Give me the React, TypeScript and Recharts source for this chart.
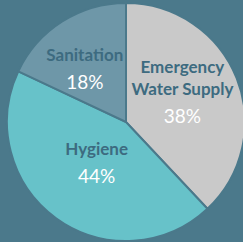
import { PieChart, Pie, Cell } from "recharts"

const categories = ["Emergency Water Supply", "Hygiene", "Sanitation"]
const shares = [38, 44, 18]

const BG = "#4b798b"
const sliceColors = ["#c9c9c9", "#67c2c9", "#6e97a8"]
// label placement tweaks per slice (radius factor, angle nudge in degrees)
const labelRadius = [0.54, 0.42, 0.57]
const labelAngleShift = [7, 0, 5]

const data = categories.map((name, i) => ({ name, value: shares[i] }))

const RADIAN = Math.PI / 180

function wrap(text: string, max: number) {
  const lines: string[] = []
  let cur = ""
  for (const w of text.split(" ")) {
    if (cur && (cur + " " + w).length > max) {
      lines.push(cur)
      cur = w
    } else {
      cur = cur ? cur + " " + w : w
    }
  }
  if (cur) lines.push(cur)
  return lines
}

function renderLabel(props: any) {
  const { cx, cy, midAngle, outerRadius, index, name, value } = props
  const r = outerRadius * labelRadius[index]
  const a = (midAngle + labelAngleShift[index]) * RADIAN
  const x = cx + r * Math.cos(-a)
  const y = cy + r * Math.sin(-a)
  const lines = wrap(name, 12)
  const span = (lines.length - 1) * 22 + 27
  const top = y - span / 2
  return (
    <g>
      {lines.map((l, i) => (
        <text
          key={i}
          x={x}
          y={top + i * 22}
          textAnchor="middle"
          dominantBaseline="central"
          fill="#3d6b80"
          fontSize={17}
          fontWeight="bold"
          fontFamily="Lato, sans-serif"
        >
          {l}
        </text>
      ))}
      <text
        x={x}
        y={top + span}
        textAnchor="middle"
        dominantBaseline="central"
        fill="#ffffff"
        fontSize={19}
        fontFamily="Lato, sans-serif"
      >
        {value}%
      </text>
    </g>
  )
}

export default function App() {
  return (
    <div style={{ position: "fixed", left: 0, top: 0, width: 243, height: 242, background: BG }}>
      <PieChart width={243} height={242} margin={{ top: 0, right: 0, bottom: 0, left: 0 }}>
        <Pie
          data={data}
          dataKey="value"
          nameKey="name"
          cx={126}
          cy={122}
          outerRadius={119}
          startAngle={90}
          endAngle={-270}
          stroke={BG}
          strokeWidth={2}
          label={renderLabel}
          labelLine={false}
          isAnimationActive={false}
        >
          {data.map((d, i) => (
            <Cell key={d.name} fill={sliceColors[i]} />
          ))}
        </Pie>
      </PieChart>
    </div>
  )
}
